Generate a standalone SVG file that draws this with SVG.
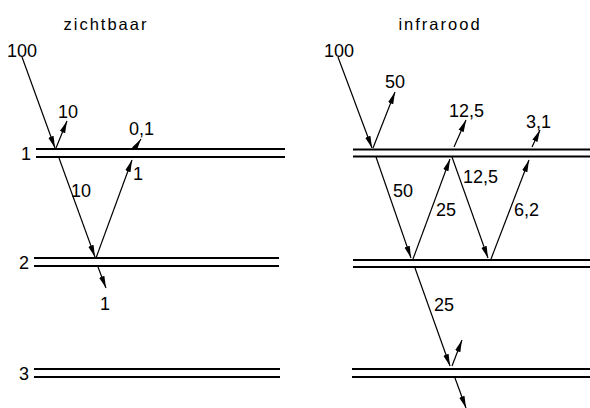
<svg xmlns="http://www.w3.org/2000/svg" width="590" height="408" viewBox="0 0 590 408">
<style>
.t{font-family:"Liberation Sans",Arial,sans-serif;font-size:18px;fill:#000}
.h{font-family:"Liberation Sans",Arial,sans-serif;font-size:16.5px;letter-spacing:2px;fill:#000;text-anchor:middle}
.layer line{stroke:#000;stroke-width:2}
.ray{stroke:#000;stroke-width:1.2;fill:none;marker-end:url(#ah)}
</style>
<defs>
<marker id="ah" markerUnits="userSpaceOnUse" markerWidth="13" markerHeight="8" refX="12" refY="3.5" orient="auto">
<path d="M0,0.7 L12,3.5 L0,6.3 Z" fill="#000"/>
</marker>
</defs>
<rect width="590" height="408" fill="#fff"/>
<text class="h" x="106" y="30">zichtbaar</text>
<text class="h" x="440" y="30">infrarood</text>
<g id="layer1-left" class="layer"><line x1="36" y1="149" x2="285" y2="149"/><line x1="36" y1="157" x2="285" y2="157"/><text class="t" x="21" y="160">1</text></g>
<g id="layer2-left" class="layer"><line x1="34" y1="258" x2="279" y2="258"/><line x1="34" y1="266" x2="279" y2="266"/><text class="t" x="19" y="269">2</text></g>
<g id="layer3-left" class="layer"><line x1="34" y1="369" x2="280" y2="369"/><line x1="34" y1="377" x2="280" y2="377"/><text class="t" x="19" y="380">3</text></g>
<g id="layer1-right" class="layer"><line x1="353" y1="149.5" x2="590" y2="149.5"/><line x1="353" y1="156.5" x2="590" y2="156.5"/></g>
<g id="layer2-right" class="layer"><line x1="353" y1="260" x2="590" y2="260"/><line x1="353" y1="267" x2="590" y2="267"/></g>
<g id="layer3-right" class="layer"><line x1="352" y1="369" x2="590" y2="369"/><line x1="352" y1="377" x2="590" y2="377"/></g>
<g id="connectors">
<line class="ray" x1="22" y1="57" x2="55" y2="148"/>
<line class="ray" x1="56" y1="148" x2="67" y2="121"/>
<line class="ray" x1="135" y1="148" x2="141" y2="139"/>
<line class="ray" x1="59" y1="158" x2="95" y2="257"/>
<line class="ray" x1="96" y1="258" x2="132" y2="160"/>
<line class="ray" x1="98" y1="267" x2="106" y2="288"/>
<line class="ray" x1="338" y1="57" x2="372" y2="148"/>
<line class="ray" x1="373" y1="148" x2="395" y2="92"/>
<line class="ray" x1="454" y1="147" x2="466" y2="120"/>
<line class="ray" x1="532" y1="147" x2="540" y2="130"/>
<line class="ray" x1="376" y1="157" x2="411" y2="258"/>
<line class="ray" x1="413" y1="259" x2="450" y2="159"/>
<line class="ray" x1="452" y1="157" x2="488" y2="258"/>
<line class="ray" x1="491" y1="259" x2="529" y2="160"/>
<line class="ray" x1="415" y1="268" x2="450" y2="366"/>
<line class="ray" x1="452" y1="366" x2="462" y2="340"/>
<line class="ray" x1="455" y1="378" x2="466" y2="408"/>
</g>
<g id="labels-left">
<text class="t" x="7" y="57">100</text>
<text class="t" x="58" y="118">10</text>
<text class="t" x="129" y="135">0,1</text>
<text class="t" x="71" y="197">10</text>
<text class="t" x="133" y="180">1</text>
<text class="t" x="100" y="310">1</text>
</g>
<g id="labels-right">
<text class="t" x="324" y="57">100</text>
<text class="t" x="385" y="88">50</text>
<text class="t" x="449" y="117">12,5</text>
<text class="t" x="526" y="128">3,1</text>
<text class="t" x="393" y="197">50</text>
<text class="t" x="436" y="216">25</text>
<text class="t" x="463" y="183">12,5</text>
<text class="t" x="514" y="216">6,2</text>
<text class="t" x="434" y="311">25</text>
</g>
</svg>
